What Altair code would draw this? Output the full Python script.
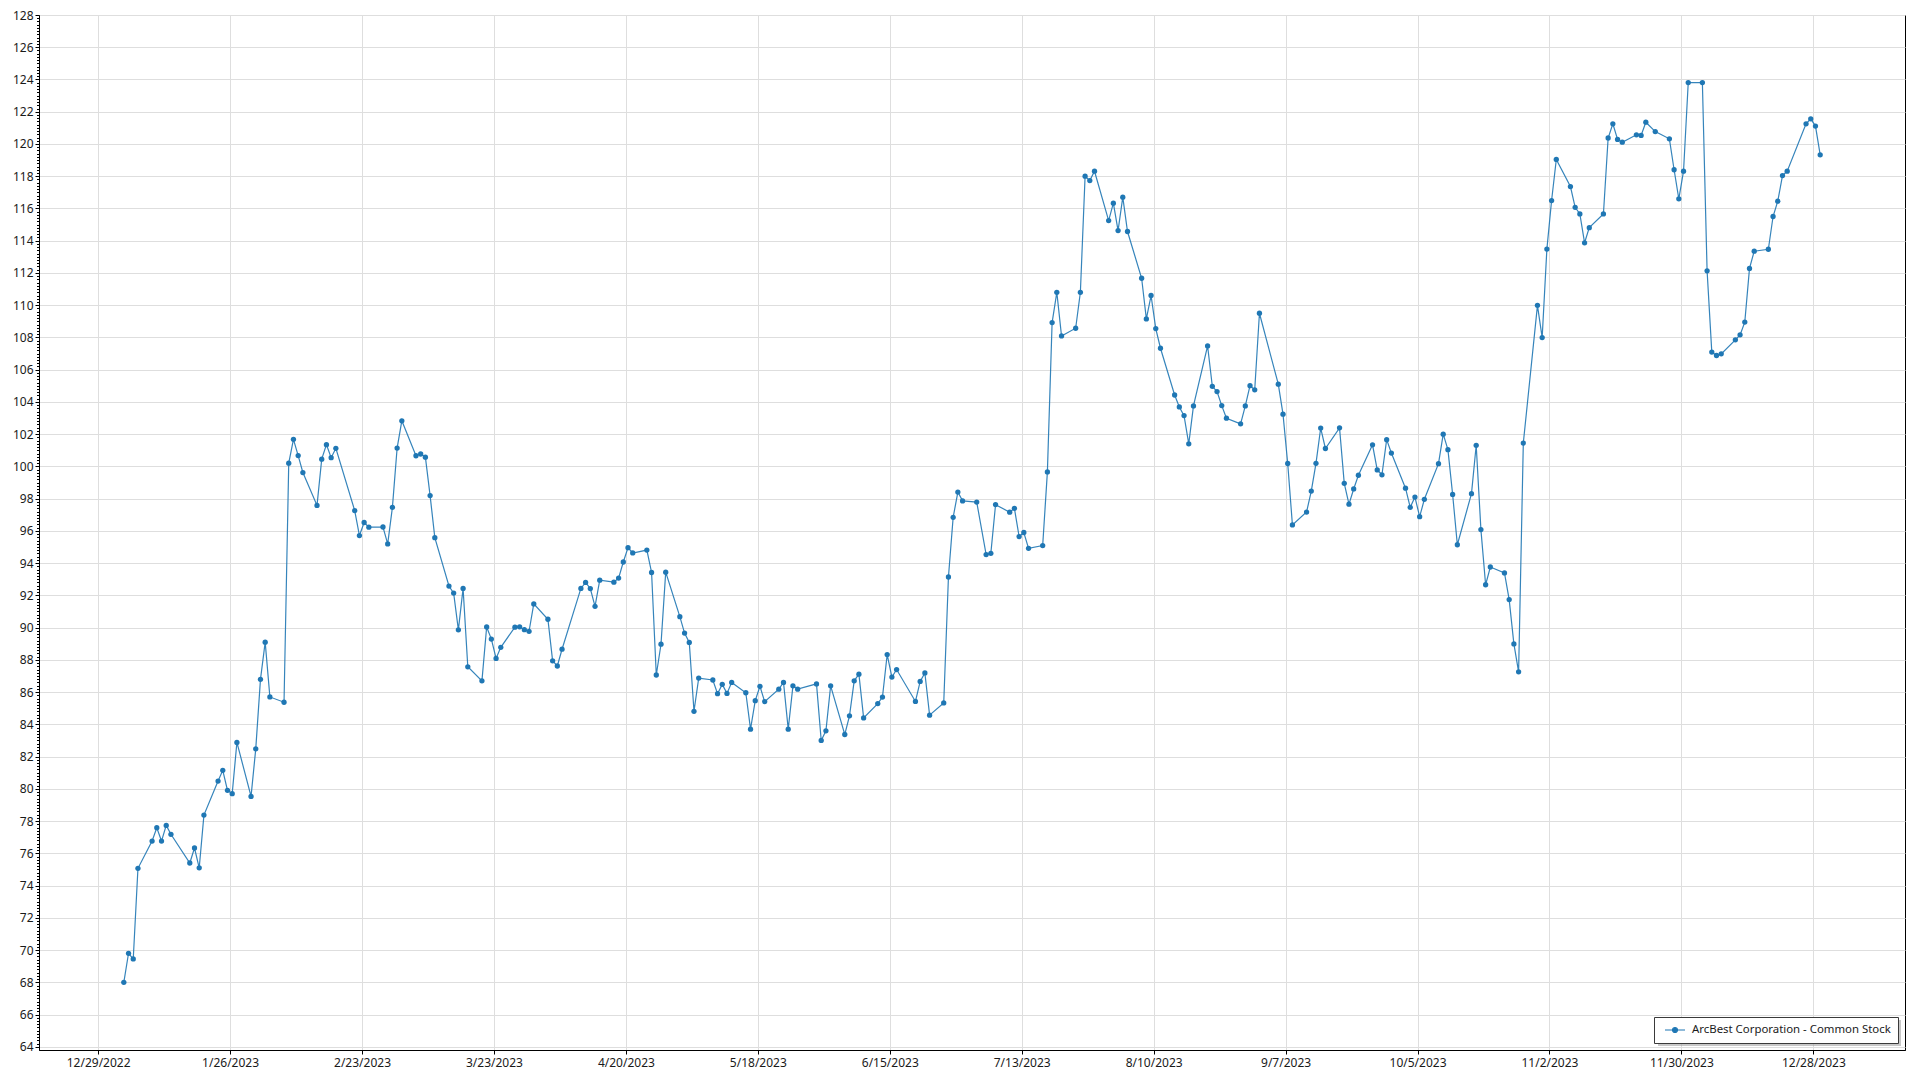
import altair as alt
import pandas as pd
from datetime import datetime, timedelta, timezone

SERIES_NAME = "ArcBest Corporation - Common Stock"

TRADE_DATES = [
    "2023-01-03", "2023-01-04", "2023-01-05", "2023-01-06", "2023-01-09", "2023-01-10", "2023-01-11", "2023-01-12", "2023-01-13", "2023-01-17",
    "2023-01-18", "2023-01-19", "2023-01-20", "2023-01-23", "2023-01-24", "2023-01-25", "2023-01-26", "2023-01-27", "2023-01-30", "2023-01-31",
    "2023-02-01", "2023-02-02", "2023-02-03", "2023-02-06", "2023-02-07", "2023-02-08", "2023-02-09", "2023-02-10", "2023-02-13", "2023-02-14",
    "2023-02-15", "2023-02-16", "2023-02-17", "2023-02-21", "2023-02-22", "2023-02-23", "2023-02-24", "2023-02-27", "2023-02-28",
    "2023-03-01", "2023-03-02", "2023-03-03", "2023-03-06", "2023-03-07", "2023-03-08", "2023-03-09", "2023-03-10", "2023-03-13", "2023-03-14",
    "2023-03-15", "2023-03-16", "2023-03-17", "2023-03-20", "2023-03-21", "2023-03-22", "2023-03-23", "2023-03-24", "2023-03-27", "2023-03-28",
    "2023-03-29", "2023-03-30", "2023-03-31",
    "2023-04-03", "2023-04-04", "2023-04-05", "2023-04-06", "2023-04-10", "2023-04-11", "2023-04-12", "2023-04-13", "2023-04-14", "2023-04-17",
    "2023-04-18", "2023-04-19", "2023-04-20", "2023-04-21", "2023-04-24", "2023-04-25", "2023-04-26", "2023-04-27", "2023-04-28",
    "2023-05-01", "2023-05-02", "2023-05-03", "2023-05-04", "2023-05-05", "2023-05-08", "2023-05-09", "2023-05-10", "2023-05-11", "2023-05-12",
    "2023-05-15", "2023-05-16", "2023-05-17", "2023-05-18", "2023-05-19", "2023-05-22", "2023-05-23", "2023-05-24", "2023-05-25", "2023-05-26",
    "2023-05-30", "2023-05-31",
    "2023-06-01", "2023-06-02", "2023-06-05", "2023-06-06", "2023-06-07", "2023-06-08", "2023-06-09", "2023-06-12", "2023-06-13", "2023-06-14",
    "2023-06-15", "2023-06-16", "2023-06-20", "2023-06-21", "2023-06-22", "2023-06-23", "2023-06-26", "2023-06-27", "2023-06-28", "2023-06-29",
    "2023-06-30",
    "2023-07-03", "2023-07-05", "2023-07-06", "2023-07-07", "2023-07-10", "2023-07-11", "2023-07-12", "2023-07-13", "2023-07-14", "2023-07-17",
    "2023-07-18", "2023-07-19", "2023-07-20", "2023-07-21", "2023-07-24", "2023-07-25", "2023-07-26", "2023-07-27", "2023-07-28", "2023-07-31",
    "2023-08-01", "2023-08-02", "2023-08-03", "2023-08-04", "2023-08-07", "2023-08-08", "2023-08-09", "2023-08-10", "2023-08-11", "2023-08-14",
    "2023-08-15", "2023-08-16", "2023-08-17", "2023-08-18", "2023-08-21", "2023-08-22", "2023-08-23", "2023-08-24", "2023-08-25", "2023-08-28",
    "2023-08-29", "2023-08-30", "2023-08-31",
    "2023-09-01", "2023-09-05", "2023-09-06", "2023-09-07", "2023-09-08", "2023-09-11", "2023-09-12", "2023-09-13", "2023-09-14", "2023-09-15",
    "2023-09-18", "2023-09-19", "2023-09-20", "2023-09-21", "2023-09-22", "2023-09-25", "2023-09-26", "2023-09-27", "2023-09-28", "2023-09-29",
    "2023-10-02", "2023-10-03", "2023-10-04", "2023-10-05", "2023-10-06", "2023-10-09", "2023-10-10", "2023-10-11", "2023-10-12", "2023-10-13",
    "2023-10-16", "2023-10-17", "2023-10-18", "2023-10-19", "2023-10-20", "2023-10-23", "2023-10-24", "2023-10-25", "2023-10-26", "2023-10-27",
    "2023-10-30", "2023-10-31",
    "2023-11-01", "2023-11-02", "2023-11-03", "2023-11-06", "2023-11-07", "2023-11-08", "2023-11-09", "2023-11-10", "2023-11-13", "2023-11-14",
    "2023-11-15", "2023-11-16", "2023-11-17", "2023-11-20", "2023-11-21", "2023-11-22", "2023-11-24", "2023-11-27", "2023-11-28", "2023-11-29",
    "2023-11-30",
    "2023-12-01", "2023-12-04", "2023-12-05", "2023-12-06", "2023-12-07", "2023-12-08", "2023-12-11", "2023-12-12", "2023-12-13", "2023-12-14",
    "2023-12-15", "2023-12-18", "2023-12-19", "2023-12-20", "2023-12-21", "2023-12-22", "2023-12-26", "2023-12-27", "2023-12-28", "2023-12-29",
]

CLOSE_PRICES = [
    68.00, 69.80, 69.45, 75.07, 76.76, 77.59, 76.76, 77.73, 77.18, 75.40,
    76.33, 75.10, 78.37, 80.48, 81.15, 79.91, 79.70, 82.88, 79.53, 82.48,
    86.79, 89.10, 85.70, 85.37, 100.20, 101.68, 100.67, 99.62, 97.58, 100.45,
    101.35, 100.54, 101.12, 97.26, 95.71, 96.52, 96.23, 96.24, 95.19,
    97.46, 101.14, 102.83, 100.66, 100.77, 100.57, 98.19, 95.58, 92.58, 92.14,
    89.86, 92.43, 87.57, 86.70, 90.04, 89.29, 88.09, 88.78, 90.03, 90.05,
    89.87, 89.77, 91.47,
    90.52, 87.94, 87.62, 88.66, 92.43, 92.80, 92.42, 91.32, 92.94, 92.82,
    93.07, 94.07, 94.96, 94.63, 94.81, 93.42, 87.06, 88.97, 93.44,
    90.68, 89.66, 89.08, 84.81, 86.87, 86.75, 85.90, 86.48, 85.92, 86.60,
    85.96, 83.70, 85.47, 86.36, 85.41, 86.18, 86.60, 83.70, 86.39, 86.18,
    86.51, 83.00,
    83.60, 86.39, 83.37, 84.53, 86.70, 87.11, 84.40, 85.29, 85.69, 88.33,
    86.93, 87.40, 85.42, 86.66, 87.19, 84.57, 85.33, 93.14, 96.84, 98.41,
    97.86,
    97.79, 94.53, 94.61, 97.63, 97.16, 97.40, 95.65, 95.90, 94.92, 95.09,
    99.66, 108.92, 110.80, 108.09, 108.57, 110.80, 118.00, 117.73, 118.31, 115.25,
    116.33, 114.63, 116.70, 114.57, 111.67, 109.15, 110.60, 108.55, 107.33, 104.43,
    103.69, 103.15, 101.40, 103.75, 107.47, 104.97, 104.64, 103.77, 102.99, 102.64,
    103.75, 105.01, 104.75,
    109.50, 105.10, 103.24, 100.18, 96.37, 97.17, 98.47, 100.19, 102.38, 101.11,
    102.39, 98.95, 97.66, 98.60, 99.45, 101.34, 99.78, 99.48, 101.66, 100.83,
    98.65, 97.46, 98.10, 96.88, 97.96, 100.17, 102.00, 101.04, 98.26, 95.14,
    98.31, 101.31, 96.08, 92.66, 93.76, 93.39, 91.74, 88.99, 87.26, 101.45,
    109.99, 107.99,
    113.48, 116.49, 119.04, 117.36, 116.07, 115.66, 113.87, 114.81, 115.66, 120.37,
    121.25, 120.28, 120.11, 120.57, 120.53, 121.35, 120.77, 120.32, 118.40, 116.60,
    118.31,
    123.81, 123.81, 112.13, 107.09, 106.88, 106.98, 107.85, 108.16, 108.95, 112.28,
    113.35, 113.47, 115.50, 116.45, 118.04, 118.31, 121.25, 121.56, 121.11, 119.33,
]

X_TICK_DATES = [
    "2022-12-29", "2023-01-26", "2023-02-23", "2023-03-23", "2023-04-20", "2023-05-18", "2023-06-15",
    "2023-07-13", "2023-08-10", "2023-09-07", "2023-10-05", "2023-11-02", "2023-11-30", "2023-12-28",
]
Y_TICK_MIN = 64
Y_TICK_MAX = 128
Y_TICK_STEP = 2
Y_MINOR_STEP = 0.2

BLUE = "#1f77b4"
FONT = "Noto Sans"
GRID = "#dedede"
TEXT = "#1a1a1a"

PLOT_W = 1866
PLOT_H = 1035


def utc_ms(s, hours=0.0):
    d = datetime.strptime(s, "%Y-%m-%d").replace(tzinfo=timezone.utc) + timedelta(hours=hours)
    return int(d.timestamp() * 1000)


SESSION_HOURS = 10.8  # points sit a little after midnight of their day
df = pd.DataFrame({
    "t": [utc_ms(d, SESSION_HOURS) for d in TRADE_DATES],
    "price": CLOSE_PRICES,
    "series": SERIES_NAME,
})

t_min, t_max = df["t"].min(), df["t"].max()
t_pad = (t_max - t_min) * 0.05
x_domain = [int(t_min - t_pad), int(t_max + t_pad)]
x_ticks = [utc_ms(d) for d in X_TICK_DATES]

n_minor = int(round((Y_TICK_MAX - Y_TICK_MIN) / Y_MINOR_STEP))
y_values = [round(Y_TICK_MIN + Y_MINOR_STEP * i, 1) for i in range(n_minor + 1)]
is_major = f"abs(datum.value - round(datum.value / {Y_TICK_STEP}) * {Y_TICK_STEP}) < 0.001"

x_enc = alt.X(
    "t:T",
    title=None,
    scale=alt.Scale(type="utc", domain=x_domain, nice=False),
    axis=alt.Axis(
        values=x_ticks,
        tickCount=1000,
        labelExpr="utcFormat(datum.value, '%-m/%-d/%Y')",
        tickSize=4,
        labelPadding=3,
        grid=True,
        labelOverlap=False,
    ),
)
y_enc = alt.Y(
    "price:Q",
    title=None,
    scale=alt.Scale(domain=[63.8, 128], nice=False, zero=False),
    axis=alt.Axis(
        values=y_values,
        tickCount=1000,
        labelExpr=f"{is_major} ? format(datum.value, 'd') : ''",
        labelOverlap=False,
        labelBound=False,
        labelPadding=2,
        tickSize={"condition": {"test": is_major, "value": 4}, "value": 2.5},
        gridOpacity={"condition": {"test": is_major, "value": 1}, "value": 0},
        grid=True,
    ),
)

# soft drop shadow sitting just behind the legend box (bottom-right corner)
shadow = alt.Chart(pd.DataFrame({"k": [0]})).mark_rect(color="#9a9a9a", opacity=0.55).encode(
    x=alt.value(PLOT_W - 250 + 3),
    x2=alt.value(PLOT_W - 7 + 3),
    y=alt.value(PLOT_H - 7 - 26 + 3),
    y2=alt.value(PLOT_H - 7 + 3),
)

line = alt.Chart(df).mark_line(color=BLUE, strokeWidth=1.2, opacity=0.9).encode(
    x=x_enc, y=y_enc, detail="series:N"
)

points = alt.Chart(df).mark_point(filled=True, size=28, opacity=1).encode(
    x="t:T",
    y="price:Q",
    color=alt.Color(
        "series:N",
        scale=alt.Scale(domain=[SERIES_NAME], range=[BLUE]),
        legend=alt.Legend(
            title=None,
            orient="bottom-right",
            offset=7,
            padding=7,
            strokeColor="#3a3a3a",
            fillColor="#ffffff",
            symbolType="M-2,0L2,0M-0.5,0A0.5,0.5,0,1,0,0.5,0A0.5,0.5,0,1,0,-0.5,0Z",
            symbolSize=100,
            symbolStrokeWidth=1.2,
            symbolStrokeColor=BLUE,
            symbolFillColor=BLUE,
            symbolOffset=8,
            labelOffset=11,
            labelLimit=0,
            labelFontSize=11.4,
            labelFont=FONT,
            labelColor=TEXT,
        ),
    ),
)

chart = (
    alt.layer(line, points, shadow)
    .properties(
        width=PLOT_W,
        height=PLOT_H,
        autosize=alt.AutoSizeParams(type="none"),
        padding={"left": 31, "top": 7, "right": 7, "bottom": 25},
        background="white",
    )
    .configure_view(stroke="#000000", strokeWidth=1)
    .configure_axis(
        labelFont=FONT,
        labelFontSize=12,
        labelColor=TEXT,
        domainColor="#000000",
        domainWidth=1,
        tickColor="#000000",
        tickWidth=1,
        gridColor=GRID,
        gridWidth=1,
    )
)

chart.save("out.html", embed_options={"renderer": "svg", "actions": False})
